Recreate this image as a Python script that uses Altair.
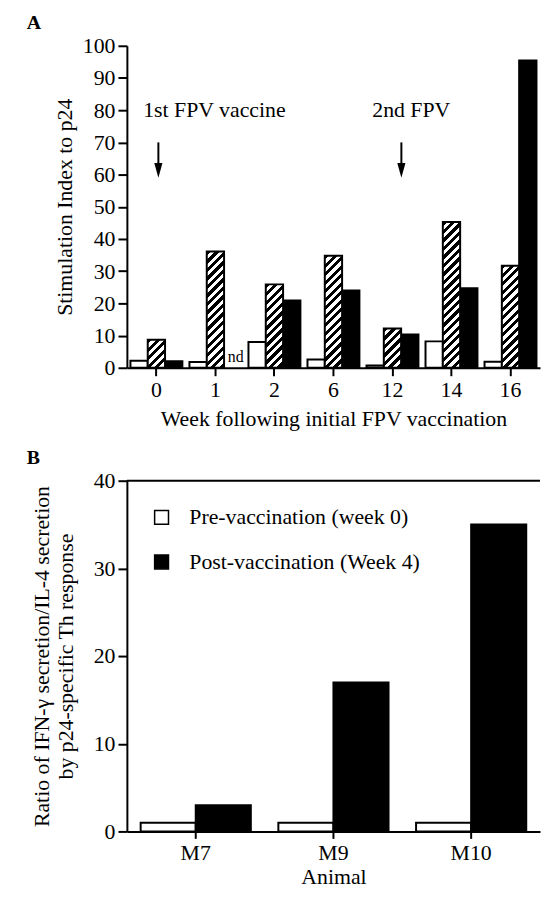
import altair as alt
import pandas as pd

# ---------------- data ----------------
# Panel A
weeks = ["0", "1", "2", "6", "12", "14", "16"]
open_values = [2.2, 1.8, 8.0, 2.6, 0.7, 8.2, 1.9]
hatched_values = [8.7, 36.1, 25.9, 34.8, 12.2, 45.3, 31.7]
solid_values = [2.0, None, 20.9, 24.0, 10.3, 24.7, 95.4]   # None = not done (nd)

nd_week = ["1"]
nd_text = ["nd"]

ann_labels = ["1st FPV vaccine", "2nd FPV"]
ann_weeks = ["1", "12"]
ann_y = [80, 80]

arrow_weeks = ["0", "12"]
arrow_top = [70, 70]
arrow_tip = [59, 59]

# Panel B
animals = ["M7", "M9", "M10"]
groups = ["Pre-vaccination (week 0)", "Post-vaccination (Week 4)"]
pre_ratio = [1, 1, 1]
post_ratio = [3, 17, 35]

# ---------------- style ----------------
FONT = "Liberation Serif"
A_W, A_H = 417, 325
B_W, B_H = 417, 354
PI, PO = 0.12, 0.06
PIB, POB = 0.2, 0.1

dfA = pd.DataFrame({"week": weeks, "open": open_values, "hatched": hatched_values,
                    "solid": solid_values})

xA = alt.X("week:N", sort=weeks,
           scale=alt.Scale(domain=weeks, paddingInner=PI, paddingOuter=PO),
           axis=alt.Axis(title="Week following initial FPV vaccination", labelAngle=0,
                         tickSize=8, labelPadding=4, titlePadding=8))
Y_SCALE_A = alt.Scale(domain=[0, 100], nice=False)
Y_AXIS_A = alt.Axis(values=list(range(0, 101, 10)), title="Stimulation Index to p24",
                    tickSize=9, labelPadding=3, titlePadding=6)


def yA(field):
    return alt.Y(f"{field}:Q", scale=Y_SCALE_A, axis=Y_AXIS_A)


def hatch_gradient(w, h, period=8.6, black_frac=0.5):
    s_total = w + h
    k = s_total / (w * w + h * h)
    tp = period / s_total
    stops = []
    i = 0
    done = False
    while not done:
        a = i * tp
        b = a + tp * black_frac
        c = a + tp
        for col, off in [("black", a), ("black", b), ("white", b), ("white", c)]:
            if off >= 1.0:
                off = 1.0
                done = True
            stops.append(alt.GradientStop(color=col, offset=round(off, 5)))
            if done:
                break
        i += 1
    return alt.LinearGradient(gradient="linear", stops=stops,
                              x1=0, y1=0, x2=round(k * w, 5), y2=round(k * h, 5))


step = A_W / (len(weeks) - PI + 2 * PO)
bar_w = step * (1 - PI) / 3
third = alt.RelativeBandSize(band=1 / 3)

open_bars = alt.Chart(dfA).mark_bar(
    width=third, xOffset=-bar_w, fill="white", stroke="black", strokeWidth=2
).encode(x=xA, y=yA("open"))

solid_bars = alt.Chart(dfA).transform_filter("isValid(datum.solid)").mark_bar(
    width=third, xOffset=bar_w, fill="black", stroke="black", strokeWidth=2
).encode(x=xA, y=yA("solid"))

hatch_layers = []
for wk, v in zip(weeks, hatched_values):
    grad = hatch_gradient(bar_w, v * A_H / 100.0)
    hatch_layers.append(
        alt.Chart(dfA).transform_filter(f"datum.week == '{wk}'").mark_bar(
            width=third, fill=grad, stroke="black", strokeWidth=2
        ).encode(x=xA, y=yA("hatched"))
    )

dfND = pd.DataFrame({"week": nd_week, "pos": [0], "label": nd_text})
nd = alt.Chart(dfND).mark_text(baseline="bottom", dy=-3, dx=bar_w + 3, fontSize=16,
                               font=FONT).encode(x=xA, y=yA("pos"), text="label:N")

ann_layers = []
for lab, wk, yv, dx in zip(ann_labels, ann_weeks, ann_y, [-1, 19]):
    d = pd.DataFrame({"week": [wk], "pos": [yv], "label": [lab]})
    ann_layers.append(alt.Chart(d).mark_text(fontSize=22, font=FONT, align="center",
                                             baseline="middle", dx=dx)
                      .encode(x=xA, y=yA("pos"), text="label:N"))

head_px = 15
head_units = head_px * 100.0 / A_H
for wk, top, tip, off in zip(arrow_weeks, arrow_top, arrow_tip, [2, 9]):
    d = pd.DataFrame({"week": [wk], "pos": [top], "pos2": [tip + head_units * 0.6]})
    ann_layers.append(alt.Chart(d).mark_rule(color="black", strokeWidth=2, xOffset=off)
                      .encode(x=xA, y=yA("pos"), y2=alt.Y2("pos2:Q")))
    h = pd.DataFrame({"week": [wk], "pos": [tip + head_units / 2]})
    ann_layers.append(alt.Chart(h).mark_point(shape="M-0.55,-1L0.55,-1L0,1Z", filled=True,
                                              color="black", opacity=1, size=head_px ** 2,
                                              xOffset=off)
                      .encode(x=xA, y=yA("pos")))

panelA = alt.layer(open_bars, solid_bars, *hatch_layers, nd, *ann_layers).properties(
    width=A_W, height=A_H,
    title=alt.TitleParams("A", anchor="start", frame="group", fontSize=20, fontWeight="bold",
                          font=FONT, dx=-101, offset=2),
)

# ---------------- panel B ----------------
dfB = pd.DataFrame({"animal": animals, "pre": pre_ratio, "post": post_ratio,
                    "pre_group": [groups[0]] * len(animals),
                    "post_group": [groups[1]] * len(animals)})

xB = alt.X("animal:N", sort=animals,
           scale=alt.Scale(domain=animals, paddingInner=PIB, paddingOuter=POB),
           axis=alt.Axis(title="Animal", labelAngle=0, tickSize=7, labelPadding=4, titlePadding=4))
Y_SCALE_B = alt.Scale(domain=[0, 40], nice=False)
Y_AXIS_B = alt.Axis(values=[0, 10, 20, 30, 40],
                    title=["Ratio of IFN-\u03b3 secretion/IL-4 secretion",
                           "by p24-specific Th response"],
                    tickSize=9, labelPadding=3, titlePadding=16, titleLineHeight=24)
fillB_scale = alt.Scale(domain=groups, range=["white", "black"])
legendB = alt.Legend(title=None, orient="none", legendX=24, legendY=26,
                     symbolType="square", symbolSize=196,
                     symbolStrokeColor="black", symbolStrokeWidth=1.5,
                     labelFontSize=22, labelFont=FONT, labelColor="black", labelLimit=400,
                     labelOffset=17, rowPadding=23, padding=0)

stepB = B_W / (len(animals) - PIB + 2 * POB)
barB = stepB * (1 - PIB) / 2
half = alt.RelativeBandSize(band=0.5)

pre_bars = alt.Chart(dfB).mark_bar(width=half, xOffset=-barB / 2, stroke="black",
                                   strokeWidth=2).encode(
    x=xB, y=alt.Y("pre:Q", scale=Y_SCALE_B, axis=Y_AXIS_B),
    fill=alt.Fill("pre_group:N", scale=fillB_scale, legend=legendB))
post_bars = alt.Chart(dfB).mark_bar(width=half, xOffset=barB / 2, stroke="black",
                                    strokeWidth=2).encode(
    x=xB, y=alt.Y("post:Q", scale=Y_SCALE_B, axis=Y_AXIS_B),
    fill=alt.Fill("post_group:N", scale=fillB_scale, legend=legendB))
top_rule = alt.Chart(pd.DataFrame({"v": [40]})).mark_rule(color="black", strokeWidth=2).encode(
    y=alt.datum(40))

panelB = alt.layer(pre_bars, post_bars, top_rule).properties(
    width=B_W, height=B_H,
    title=alt.TitleParams("B", anchor="start", frame="group", fontSize=20, fontWeight="bold",
                          font=FONT, dx=-101, offset=2),
)

chart = alt.vconcat(panelA, panelB, spacing=19).resolve_scale(fill="independent").configure(
    font=FONT, padding={"left": 19, "top": 1, "right": 0, "bottom": 0}
).configure_view(stroke=None).configure_axis(
    domainColor="black", domainWidth=2, tickColor="black", tickWidth=2,
    labelColor="black", labelFontSize=22, labelFont=FONT,
    titleColor="black", titleFontSize=22, titleFont=FONT, titleFontWeight="normal",
    grid=False,
)

chart.save("out.html", embed_options={"renderer": "svg", "actions": False})
